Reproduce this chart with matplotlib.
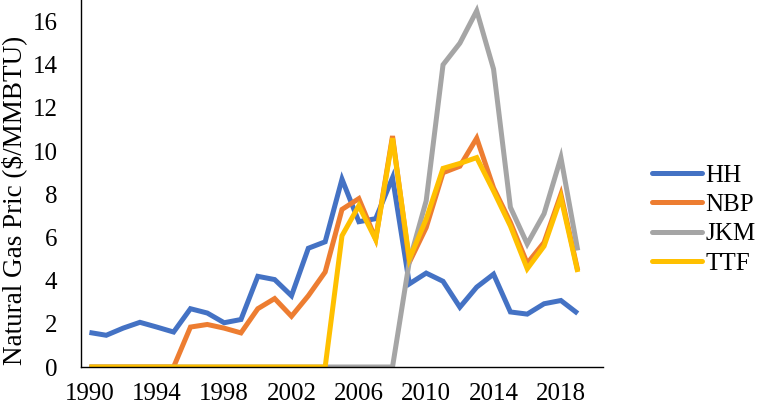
import matplotlib
matplotlib.use("Agg")
import matplotlib.pyplot as plt
from matplotlib.lines import Line2D

years = list(range(1990, 2020))
HH = [1.6, 1.47, 1.8, 2.07, 1.85, 1.62, 2.7, 2.5, 2.05, 2.2, 4.2, 4.05, 3.3, 5.5, 5.8,
      8.7, 6.73, 6.87, 8.77, 3.85, 4.35, 3.97, 2.77, 3.7, 4.3, 2.55, 2.45, 2.93, 3.08, 2.48]
NBP = [0, 0, 0, 0, 0, 0, 1.85, 1.97, 1.8, 1.58, 2.7, 3.17, 2.35, 3.3, 4.4,
       7.3, 7.8, 5.93, 10.7, 4.85, 6.46, 9.0, 9.3, 10.6, 8.3, 6.7, 4.8, 5.77, 8.0, 4.47]
JKM = [0] * 19 + [4.9, 7.7, 14.0, 15.0, 16.5, 13.8, 7.4, 5.7, 7.1, 9.7, 5.4]
TTF = [0] * 15 + [6.08, 7.47, 5.9, 10.6, 5.0, 6.85, 9.2, 9.43, 9.7, 8.15, 6.53, 4.55, 5.6, 7.85, 4.4]
series = {"HH": HH, "NBP": NBP, "JKM": JKM, "TTF": TTF}
colors = {"HH": "#4472C4", "NBP": "#ED7D31", "JKM": "#A5A5A5", "TTF": "#FFC000"}
tick_years = [1990, 1994, 1998, 2002, 2006, 2010, 2014, 2018]

plt.rcParams['font.family'] = ['Liberation Serif', 'DejaVu Serif']

fig = plt.figure(figsize=(7.57, 4.08), dpi=100)
ax = fig.add_axes([81 / 757, 1 - 367 / 408, (603 - 81) / 757, 367 / 408])

x = list(range(len(years)))
for name, vals in series.items():
    ax.plot(x, vals, color=colors[name], lw=3.6, solid_joinstyle='miter',
            solid_capstyle='butt', label=name)

ax.set_xlim(-0.5, len(years) + 0.5)
ax.set_ylim(0, 17)
ax.set_yticks(range(0, 17, 2))
ax.set_xticks([years.index(t) for t in tick_years])
ax.set_xticklabels([str(t) for t in tick_years])
ax.tick_params(axis='both', length=0, labelsize=18, colors='black')
ax.tick_params(axis='y', pad=17)
ax.tick_params(axis='x', pad=11.5)
for s in ['top', 'right']:
    ax.spines[s].set_visible(False)
for s in ['left', 'bottom']:
    ax.spines[s].set_color('black')
    ax.spines[s].set_linewidth(1.0)

fig.text(14 / 757, 1 - 200 / 408, "Natural Gas Pric ($/MMBTU)", rotation=90,
         ha='center', va='center', fontsize=19.5)

handles = [Line2D([0], [0], color=colors[n], lw=3.6, solid_capstyle='round') for n in series]
fig.legend(handles, list(series.keys()), loc='center left',
           bbox_to_anchor=(652 / 757, 1 - 219.5 / 408), frameon=False,
           borderpad=0, borderaxespad=0,
           fontsize=18, handlelength=2.0, handletextpad=0.12, labelspacing=0.28)

fig.savefig("out.png", dpi=100)
